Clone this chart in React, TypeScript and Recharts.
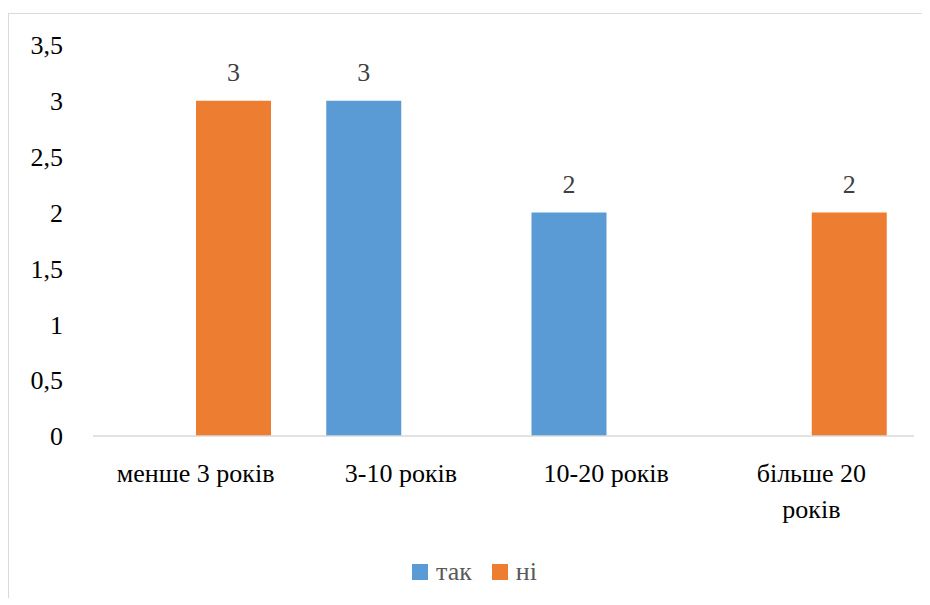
import { BarChart, Bar, XAxis, YAxis, Legend, LabelList } from "recharts";

const FONT = "'Liberation Serif', 'Times New Roman', serif";
const BLUE = "#5B9BD5";
const ORANGE = "#ED7D31";

const categories = ["менше 3 років", "3-10 років", "10-20 років", "більше 20\nроків"];
const tak = [null, 3, 2, null];
const ni = [3, null, null, 2];
const yTicks = [0, 0.5, 1, 1.5, 2, 2.5, 3, 3.5];

const data = categories.map((name, i) => ({ name, tak: tak[i], ni: ni[i] }));

const series = [
  { key: "tak", label: "так", color: BLUE },
  { key: "ni", label: "ні", color: ORANGE },
];

// category names may carry a line break, like the wrapped Excel label
function CategoryTick(props: any) {
  const { x, y, payload } = props;
  const lines = String(payload.value).split("\n");
  return (
    <text
      x={x}
      y={y + 38}
      textAnchor="middle"
      fill="#000"
      style={{ fontSize: 26, fontFamily: FONT }}
    >
      {lines.map((line, i) => (
        <tspan key={i} x={x} dy={i === 0 ? 0 : 36}>
          {line}
        </tspan>
      ))}
    </text>
  );
}

function LegendBox() {
  return (
    <div
      style={{
        height: 40,
        display: "flex",
        justifyContent: "center",
        alignItems: "flex-start",
        fontFamily: FONT,
        fontSize: 26,
        color: "#595959",
        lineHeight: "28px",
        paddingLeft: 46,
      }}
    >
      {series.map((s) => (
        <div key={s.key} style={{ display: "flex", alignItems: "center", marginRight: 20 }}>
          <span style={{ width: 16, height: 16, background: s.color, display: "inline-block", marginRight: 8 }} />
          <span>{s.label}</span>
        </div>
      ))}
    </div>
  );
}

export default function App() {
  return (
    <div
      style={{
        marginTop: 5,
        width: 921,
        height: 584,
        borderTop: "1px solid #d9d9d9",
        borderLeft: "1px solid #d9d9d9",
        background: "#fff",
      }}
    >
      <BarChart
        width={921}
        height={584}
        data={data}
        margin={{ top: 31, right: 16, left: 0, bottom: 0 }}
        barGap={0}
        barCategoryGap={28}
      >
        <XAxis
          dataKey="name"
          height={122}
          interval={0}
          tickLine={false}
          axisLine={{ stroke: "#d9d9d9", strokeWidth: 1.5 }}
          tick={<CategoryTick />}
        />
        <YAxis
          width={84}
          domain={[0, 3.5]}
          ticks={yTicks}
          interval={0}
          axisLine={false}
          tickLine={false}
          tickMargin={24}
          tickFormatter={(v: number) => String(v).replace(".", ",")}
          tick={{ fontSize: 26, fill: "#000", style: { fontFamily: FONT } }}
        />
        <Legend verticalAlign="bottom" height={40} content={<LegendBox />} />
        {series.map((s) => (
          <Bar key={s.key} dataKey={s.key} name={s.label} fill={s.color} isAnimationActive={false}>
            <LabelList
              dataKey={s.key}
              position="top"
              offset={20}
              fill="#404040"
              fontSize={26}
              style={{ fontFamily: FONT }}
            />
          </Bar>
        ))}
      </BarChart>
    </div>
  );
}
